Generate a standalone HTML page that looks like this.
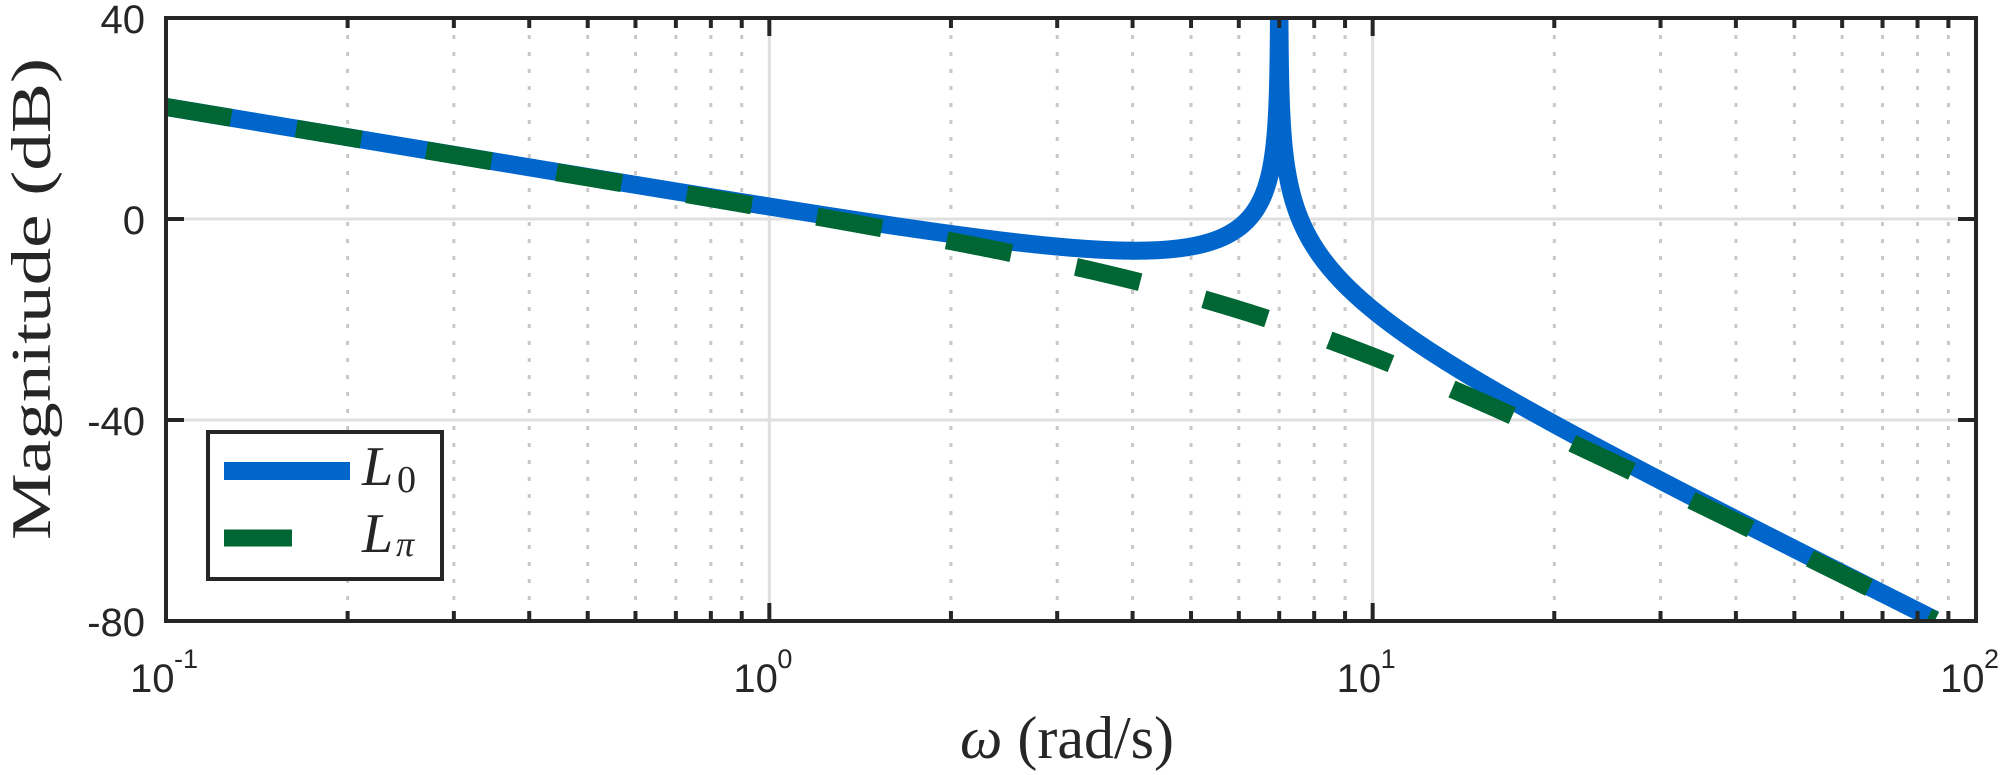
<!DOCTYPE html>
<html><head><meta charset="utf-8"><style>
html,body{margin:0;padding:0;background:#fff;}
svg{display:block;}
.t{font-family:"Liberation Sans",sans-serif;font-size:40px;fill:#262626;}
.s{font-family:"Liberation Sans",sans-serif;font-size:27px;fill:#262626;}
.m{font-family:"Liberation Serif",serif;fill:#262626;}
</style></head><body>
<svg id="c" width="2008" height="775" xmlns="http://www.w3.org/2000/svg">
<defs><clipPath id="cp"><rect x="166" y="18" width="1810" height="603"/></clipPath></defs>
<g id="grid"></g>
<g clip-path="url(#cp)">
<path id="l0" fill="none" stroke="#0066CC" stroke-width="18" stroke-linejoin="round"/>
<path id="lp" fill="none" stroke="#006633" stroke-width="18" stroke-dasharray="66 66"/>
</g>
<rect x="166" y="18" width="1810" height="603" fill="none" stroke="#262626" stroke-width="4"/>
<g id="ticks" stroke="#262626" stroke-width="4"></g>
<text class="t" x="145" y="33" text-anchor="end">40</text>
<text class="t" x="145" y="234" text-anchor="end">0</text>
<text class="t" x="145" y="435" text-anchor="end">-40</text>
<text class="t" x="145" y="636" text-anchor="end">-80</text>
<g id="xl"></g>
<text class="m" x="1067" y="758" font-size="60" text-anchor="middle"><tspan font-style="italic">ω</tspan> (rad/s)</text>
<text class="m" font-size="56" transform="translate(50,540) rotate(-90)" textLength="482" lengthAdjust="spacingAndGlyphs">Magnitude (dB)</text>
<rect x="208" y="432" width="234" height="147" fill="#fff" stroke="#262626" stroke-width="4"/>
<line x1="224" y1="471" x2="350" y2="471" stroke="#0066CC" stroke-width="18"/>
<line x1="224" y1="538" x2="292" y2="538" stroke="#006633" stroke-width="17"/>
<text class="m" x="362" y="485" font-size="56" font-style="italic">L</text>
<text class="m" x="397" y="492" font-size="38">0</text>
<text class="m" x="362" y="552" font-size="56" font-style="italic">L</text>
<text class="m" x="396" y="556" font-size="36" font-style="italic">π</text>
</svg>
<script>
var NS="http://www.w3.org/2000/svg";
function X(w){return 166+(Math.log10(w)+1)*603.33;}
function Y(d){return 219-d*5.025;}
function el(p,t,a){var e=document.createElementNS(NS,t);for(var k in a)e.setAttribute(k,a[k]);document.getElementById(p).appendChild(e);return e;}
for(var dec=-1;dec<2;dec++){
 for(var m=1;m<10;m++){
  var w=m*Math.pow(10,dec),x=X(w);
  if(m==1){ if(dec>-1) el("grid","line",{x1:x,y1:18,x2:x,y2:621,stroke:"#dfdfdf","stroke-width":3}); el("ticks","line",{x1:x,y1:18,x2:x,y2:36}); el("ticks","line",{x1:x,y1:621,x2:x,y2:603}); }
  else { el("grid","line",{x1:x,y1:18,x2:x,y2:621,stroke:"#c8c8c8","stroke-width":3,"stroke-dasharray":"4 13"}); el("ticks","line",{x1:x,y1:18,x2:x,y2:28}); el("ticks","line",{x1:x,y1:621,x2:x,y2:611}); }
 }
}
[219,420].forEach(function(y){el("grid","line",{x1:166,y1:y,x2:1976,y2:y,stroke:"#dfdfdf","stroke-width":3});el("ticks","line",{x1:166,y1:y,x2:184,y2:y});el("ticks","line",{x1:1976,y1:y,x2:1958,y2:y});});
["-1","0","1","2"].forEach(function(e,i){var x=166+i*603.33;
 var t=el("xl","text",{"class":"t",x:x-36,y:692});t.textContent="10";
 var s=el("xl","text",{"class":"s",x:x+8,y:668});s.textContent=e;});
var K=2.3;
function L0(w){return K-20*Math.log10(w)-20*Math.log10(Math.abs(1-(w/7)*(w/7)));}
function Lp(w){return K-20*Math.log10(w)-20*Math.log10(1+(w/7)*(w/7));}
var lw0=Math.log10(0.1),lw1=Math.log10(85.5),N=3000;
var pts=[];
for(var i=0;i<=N;i++){var w=Math.pow(10,lw0+(lw1-lw0)*i/N);pts.push(w);}
for(var i=1;i<400;i++){pts.push(7*(1-Math.pow(10,-i/60)));pts.push(7*(1+Math.pow(10,-i/60)));}
pts.sort(function(a,b){return a-b;});
var left="",right="";
pts.forEach(function(w){var v=L0(w);if(v>60)v=60;var s=X(w).toFixed(2)+","+Y(v).toFixed(2);
 if(w<7){left+=(left?"L":"M")+s;}else{right+=(right?"L":"M")+s;}});
document.getElementById("l0").setAttribute("d",left+right);
var p="";for(var i=0;i<=N;i++){var w=Math.pow(10,lw0+(lw1-lw0)*i/N);p+=(i?"L":"M")+X(w).toFixed(2)+","+Y(Lp(w)).toFixed(2);}
document.getElementById("lp").setAttribute("d",p);
</script>
</body></html>
